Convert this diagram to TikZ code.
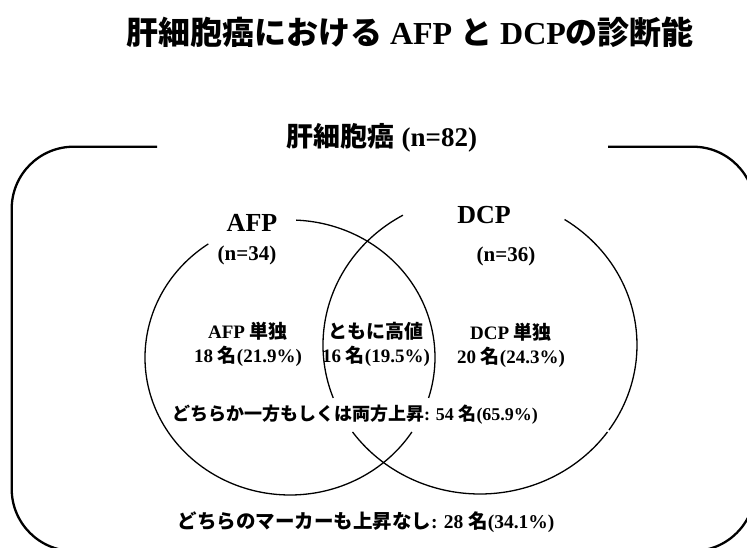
\documentclass[tikz,border=0pt]{standalone}
\usepackage{fontspec}
\setmainfont{Liberation Serif}
\newfontfamily\jp{Noto Sans CJK JP}
\newcommand\J[1]{{\jp #1}}
\tikzset{
  lbl/.style={inner sep=0pt, align=center},
  circ/.style={line width=1.3pt},
  frame/.style={line width=2.3pt, rounded corners=62pt},
}
\begin{document}
\begin{tikzpicture}[x=1pt,y=1pt]
\path[use as bounding box] (0,0) rectangle (747,-547);
\clip (0,0) rectangle (747,-547);
% outer frame (open at top for the label)
\draw[frame] (157,-146.7) -- (11.7,-146.7) -- (11.7,-551) -- (755,-551) -- (755,-146.7) -- (608,-146.7);
% AFP ellipse
\draw[circ] (290,-357.5) ++(-17.1:145 and 137.5) arc[start angle=-17.1, end angle=87.6, x radius=145, y radius=137.5];
\draw[circ] (290,-357.5) ++(124.3:145 and 137.5) arc[start angle=124.3, end angle=327.2, x radius=145, y radius=137.5];
% DCP ellipse
\draw[circ] (480,-345) ++(119.4:157 and 149) arc[start angle=119.4, end angle=200.8, x radius=157, y radius=149];
\draw[circ] (480,-345) ++(215.7:157 and 149) arc[start angle=215.7, end angle=324.3, x radius=157, y radius=149];
\draw[circ] (480,-345) ++(325.2:157 and 149) arc[start angle=325.2, end angle=417.4, x radius=157, y radius=149];
% texts
\node[lbl, font=\bfseries\fontsize{32}{38}\selectfont] (title) at (410,-32) {\J{肝細胞癌における} AFP \J{と} DCP\J{の診断能}};
\node[lbl, font=\bfseries\fontsize{27}{32}\selectfont] (main) at (382,-138) {\J{肝細胞癌} (n=82)};
\node[lbl, font=\bfseries\fontsize{26}{30}\selectfont] (afp) at (252,-223) {AFP};
\node[lbl, font=\bfseries\fontsize{21}{25}\selectfont] (afpn) at (247,-255) {(n=34)};
\node[lbl, font=\bfseries\fontsize{26}{30}\selectfont] (dcp) at (484,-215) {DCP};
\node[lbl, font=\bfseries\fontsize{21}{25}\selectfont] (dcpn) at (506,-256) {(n=36)};
\node[lbl, font=\bfseries\fontsize{19}{24}\selectfont] (afponly) at (248,-344.5) {AFP \J{単独}\\18 \J{名}(21.9\%)};
\node[lbl, font=\bfseries\fontsize{19}{24}\selectfont] (both) at (376,-344.5) {\J{ともに高値}\\16 \J{名}(19.5\%)};
\node[lbl, font=\bfseries\fontsize{19}{24}\selectfont] (dcponly) at (511,-345) {DCP \J{単独}\\20 \J{名}(24.3\%)};
\node[lbl, font=\bfseries\fontsize{18}{22}\selectfont] (either) at (355,-415) {\J{どちらか一方もしくは両方上昇}: 54 \J{名}(65.9\%)};
\node[lbl, font=\bfseries\fontsize{19.5}{24}\selectfont] (neither) at (366,-522) {\J{どちらのマーカーも上昇なし}: 28 \J{名}(34.1\%)};
\end{tikzpicture}
\end{document}
